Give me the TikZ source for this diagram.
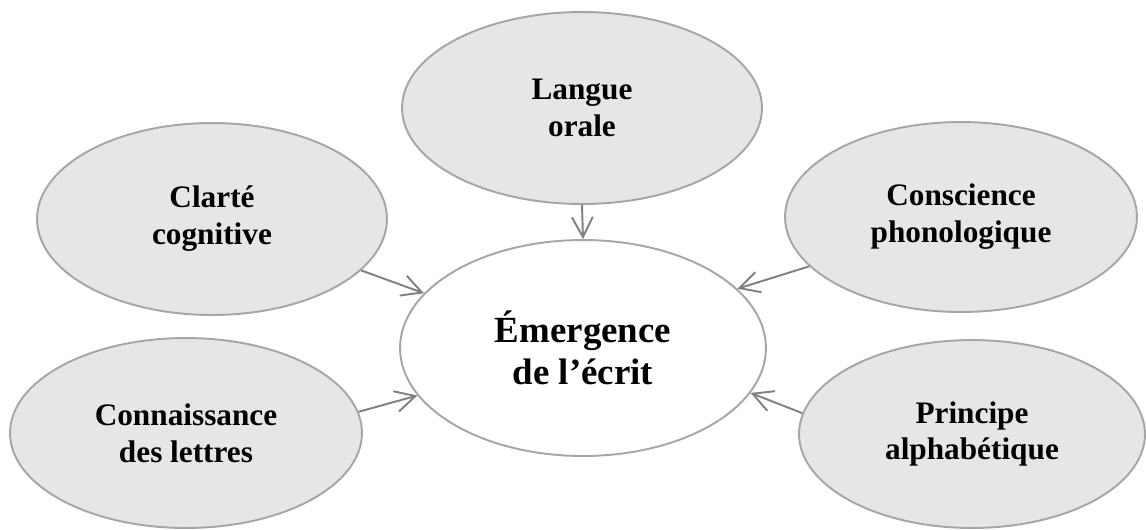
\documentclass[tikz,border=0pt]{standalone}
\usepackage{fontspec}
\setmainfont{Liberation Serif}
\usetikzlibrary{shapes.geometric,arrows.meta}
\definecolor{grisfond}{RGB}{230,230,230}
\definecolor{grisbord}{RGB}{166,166,166}
\definecolor{grisfleche}{RGB}{128,128,128}

\begin{document}
\begin{tikzpicture}[x=0.02cm,y=-0.02cm,
    bulle/.style={ellipse,draw=grisbord,line width=1.1pt,fill=grisfond,
      inner sep=0pt,align=center,font=\fontsize{17.8}{21}\selectfont\bfseries},
    lien/.style={draw=grisfleche,line width=1.1pt,
      -{Straight Barb[length=4mm,width=4.2mm]}}]
        \useasboundingbox (0,0) rectangle (1146,529) ;
        % centre
        \node[bulle,fill=white,minimum width=7.32cm,minimum height=4.32cm,
          font=\fontsize{21}{24}\selectfont\bfseries] (emer) at (583,348)
          {Émergence\\de l’écrit} ;
        % les cinq bulles
        \node[bulle,minimum width=7.2cm,minimum height=3.84cm] (lang) at (582,108)
          {Langue\\orale} ;
        \node[bulle,minimum width=7cm,minimum height=3.84cm] (clar) at (212,219)
          {Clarté\\cognitive} ;
        \node[bulle,minimum width=7.04cm,minimum height=3.8cm] (cons) at (961,217)
          {Conscience\\phonologique} ;
        \node[bulle,minimum width=7.04cm,minimum height=3.8cm] (conn) at (186,433)
          {Connaissance\\des lettres} ;
        \node[bulle,minimum width=6.92cm,minimum height=3.76cm] (prin) at (972,434)
          {Principe\\alphabétique} ;
        % fleches vers le centre
        \draw[lien] (lang.south) -- (emer.north) ;
        \draw[lien] (clar.341) -- (emer.161) ;
        \draw[lien] (cons.198) -- (emer.21) ;
        \draw[lien] (conn.7) -- (emer.196) ;
        \draw[lien] (prin.173) -- (emer.345) ;
      \end{tikzpicture}
\end{document}
